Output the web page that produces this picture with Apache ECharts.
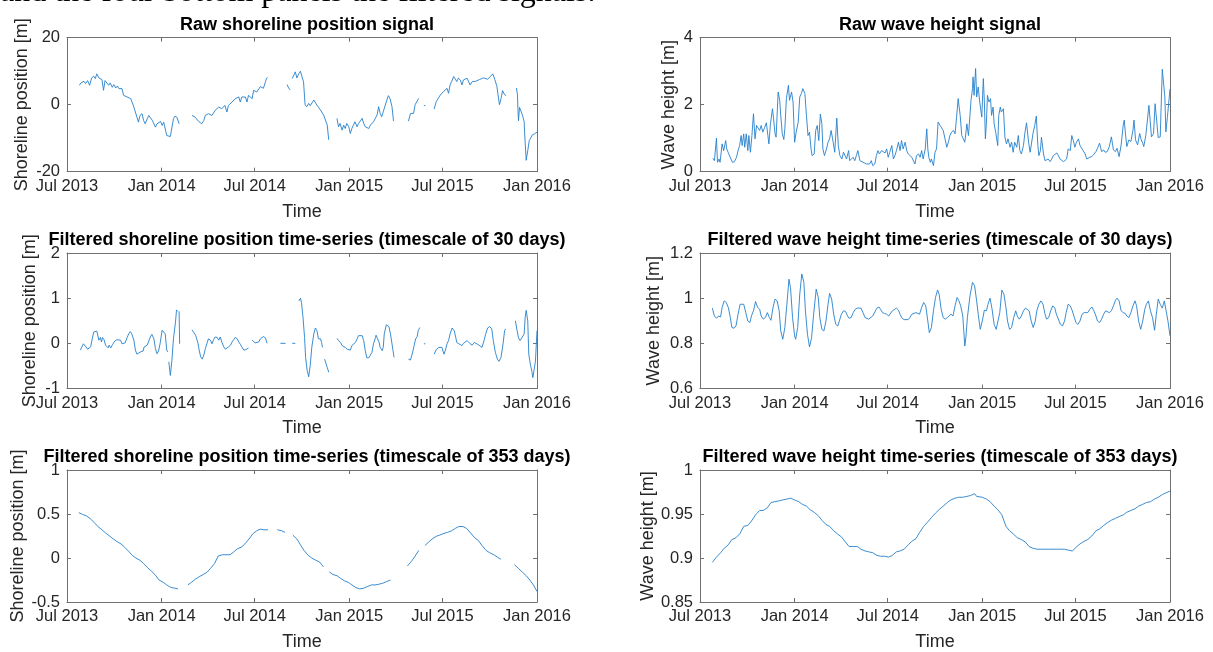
<!DOCTYPE html>
<html><head><meta charset="utf-8">
<script src="https://cdn.jsdelivr.net/npm/echarts@6/dist/echarts.min.js"></script>
<style>html,body{margin:0;padding:0;background:#fff}#c{width:1213px;height:652px}</style>
</head><body><div id="c"></div>
<script>
// x values are days since 1 Jul 2013
const tickDays = [0, 184, 365, 549, 730, 914];
const tickLabels = ['Jul 2013', 'Jan 2014', 'Jul 2014', 'Jan 2015', 'Jul 2015', 'Jan 2016'];

const rawShore = [[24,5.8],[27,6.5],[30,6.2],[33,7.0],[36,6.3],[40,7.2],[44,5.8],[48,8.0],[52,8.5],[55,7.8],[58,9.2],[62,8.0],[65,8.4],[68,7.5],[71,4.3],[74,7.2],[77,6.8],[81,5.8],[84,6.5],[88,5.2],[91,6.0],[95,5.0],[98,5.6],[101,4.8],[104,4.5],[107,4.8],[110,2.8],[113,3.2],[117,2.3],[120,2.5],[124,1.8],[127,1.3],[130,-0.7],[133,-2.2],[136,-3.7],[139,-5.2],[142,-3.2],[146,-2.7],[149,-4.7],[152,-5.7],[156,-4.2],[159,-3.2],[162,-3.4],[166,-4.7],[172,-6.7],[175,-5.7],[178,-6.0],[182,-5.0],[185,-6.2],[188,-5.2],[194,-9.2],[197,-9.7],[201,-9.5],[204,-9.7],[207,-4.2],[210,-3.4],[214,-3.8],[218,-5.7],[230,null],
[243,-3.2],[249,-3.7],[256,-5.0],[262,-5.7],[266,-4.7],[269,-3.2],[275,-2.7],[282,-3.2],[288,-1.7],[295,-0.7],[301,-1.2],[307,-0.2],[311,-2.2],[314,-0.2],[321,0.8],[327,1.8],[334,2.3],[337,0.8],[340,2.3],[347,2.3],[350,0.8],[353,2.8],[360,1.8],[363,4.3],[369,3.8],[376,5.4],[379,5.9],[382,4.9],[386,6.9],[388,7.9],[390,8.1],[410,null],
[428,6.0],[431,5.0],[434,4.4],[436,null],
[438,7.8],[441,8.3],[444,9.8],[447,8.0],[451,9.3],[454,10.0],[457,8.3],[460,6.8],[463,0.0],[466,-0.6],[470,0.4],[473,-0.3],[476,0.1],[480,1.4],[483,0.9],[486,-0.1],[489,0.4],[493,-1.6],[496,-2.1],[499,-3.1],[502,-2.6],[506,-6.0],[509,-10.5],[517,null],
[525,-4.1],[528,-6.6],[531,-5.6],[535,-7.6],[538,-6.1],[541,-7.1],[544,-5.6],[548,-6.6],[551,-8.6],[554,-7.1],[557,-6.1],[560,-5.1],[564,-6.6],[567,-5.6],[570,-5.1],[574,-4.1],[577,-5.6],[580,-6.6],[583,-6.1],[587,-7.1],[590,-6.1],[596,-5.1],[599,-4.6],[603,-3.1],[606,-0.6],[609,-2.6],[612,-3.6],[616,-1.6],[619,-2.1],[622,1.4],[625,2.7],[628,1.9],[632,-0.6],[635,-4.9],[650,null],
[664,-4.9],[668,-2.6],[671,-2.1],[674,-2.6],[677,0.0],[680,0.4],[684,1.9],[690,null],
[694,-0.3],[697,-0.2],[705,null],
[714,-1.3],[718,0.9],[722,1.9],[726,2.9],[729,2.4],[732,3.9],[735,3.4],[739,4.9],[742,3.4],[745,5.9],[748,6.9],[752,8.4],[755,7.7],[758,6.9],[761,7.9],[765,7.4],[768,5.9],[771,7.4],[774,6.9],[778,7.9],[781,7.4],[784,5.9],[788,6.9],[795,7.0],[802,7.5],[810,8.0],[818,7.6],[824,8.5],[828,9.2],[832,7.5],[836,5.5],[838,3.2],[841,0.0],[844,1.8],[847,4.2],[851,3.0],[854,2.7],[864,null],
[874,5.0],[876,3.0],[877,-1.8],[878,-4.8],[880,-0.8],[882,-1.2],[885,-2.8],[887,-3.3],[889,-5.0],[890,-8.7],[893,-16.6],[896,-13.7],[899,-10.7],[905,-9.0],[909,-8.7],[914,-8.2]];

const rawWave = [[25,0.40],[28,0.33],[32,1.00],[34,0.28],[37,0.38],[39,0.28],[43,0.83],[46,0.63],[50,0.93],[52,0.68],[56,0.53],[59,0.58],[63,0.28],[67,0.30],[71,0.43],[74,0.63],[77,0.78],[80,1.08],[82,0.78],[85,1.13],[87,0.73],[90,1.13],[93,0.63],[95,1.08],[98,0.58],[101,1.08],[104,1.73],[107,0.98],[110,1.38],[113,1.33],[116,1.23],[119,1.38],[122,1.18],[126,1.33],[129,1.46],[132,1.08],[134,0.83],[137,1.43],[141,1.88],[143,1.58],[146,1.13],[148,1.03],[152,2.38],[155,2.13],[157,1.68],[160,1.13],[163,0.96],[165,1.28],[168,2.18],[172,2.58],[174,2.13],[178,2.38],[181,2.08],[184,0.88],[187,1.18],[191,1.48],[194,2.23],[197,2.33],[200,2.48],[204,2.33],[207,1.68],[210,1.08],[213,1.18],[216,0.68],[218,0.48],[222,0.53],[225,1.23],[228,1.38],[231,0.93],[234,1.72],[237,1.43],[239,0.68],[242,0.48],[246,0.68],[249,0.88],[252,0.98],[255,1.23],[259,0.88],[262,0.58],[266,1.60],[269,0.78],[272,0.48],[276,0.38],[279,0.58],[282,0.63],[285,0.38],[289,0.63],[291,0.33],[294,0.33],[298,0.43],[301,0.33],[304,0.48],[307,0.63],[311,0.33],[314,0.30],[317,0.28],[320,0.33],[324,0.23],[327,0.26],[330,0.23],[333,0.33],[336,0.18],[340,0.23],[343,0.48],[346,0.63],[349,0.53],[353,0.63],[356,0.58],
[360,0.56],[363,0.68],[366,0.43],[369,0.58],[373,0.78],[376,0.38],[379,0.48],[382,0.63],[386,0.88],[389,0.63],[392,0.93],[395,0.68],[399,0.88],[402,0.63],[405,0.53],[408,0.58],[412,0.43],[415,0.38],[418,0.23],[421,0.48],[425,0.53],[428,0.43],[431,0.63],[434,0.38],[438,0.68],[441,1.28],[443,0.68],[445,0.43],[448,0.28],[450,0.38],[454,0.18],[457,0.58],[460,0.68],[463,1.48],[467,1.38],[470,1.43],[473,1.23],[476,1.18],[480,0.73],[483,0.88],[486,1.08],[489,1.18],[493,1.23],[496,1.13],[499,1.63],[502,2.18],[506,1.68],[509,1.08],[512,0.98],[515,0.88],[519,1.43],[522,1.08],[525,1.68],[527,2.13],[530,2.48],[531,2.83],[533,2.28],[536,3.08],[538,2.23],[541,2.53],[544,2.08],[548,1.63],[551,2.78],[553,2.08],[555,0.98],[557,1.48],[559,2.28],[562,2.08],[565,2.18],[567,1.68],[570,1.93],[572,1.43],[575,1.18],[579,0.78],[581,1.68],[584,1.93],[586,1.78],[590,1.88],[593,1.03],[596,0.83],[599,0.98],[603,0.73],[606,0.88],[609,0.58],[612,0.88],[616,0.73],[619,1.08],[622,0.63],[625,0.53],[629,0.78],[632,1.18],[635,1.46],[639,0.88],[642,0.58],[645,0.63],[648,1.18],[651,1.38],[654,1.66],[657,0.78],[659,0.48],[662,0.63],[664,1.03],[668,0.53],[671,0.33],[674,0.33],[677,0.38],[681,0.30],[684,0.38],[687,0.48],[690,0.53],[694,0.56],[697,0.48],[700,0.38],[703,0.33],[707,0.30],[710,0.26],[713,0.38],[716,0.68],[720,0.63],[723,1.08],[726,0.93],[729,0.73],[732,0.88],[736,0.98],[739,0.78],[742,0.73],[745,0.63],[749,0.53],[752,0.38],[755,0.33],[758,0.43],
[762,0.45],[766,0.52],[770,0.60],[773,0.70],[777,0.85],[781,0.60],[785,0.65],[788,0.58],[792,0.60],[796,0.75],[800,1.04],[804,0.65],[808,0.60],[811,0.70],[815,0.45],[819,0.80],[823,1.39],[825,1.54],[828,1.04],[830,0.75],[834,0.95],[838,0.90],[842,1.24],[844,1.54],[847,0.95],[851,0.80],[855,1.14],[858,0.95],[861,0.85],[863,0.75],[867,1.09],[870,1.14],[873,1.98],[876,1.93],[878,1.04],[882,1.14],[885,2.03],[888,1.54],[891,1.02],[895,1.04],[899,3.06],[901,3.01],[904,2.23],[906,1.19],[909,1.64],[911,1.68],[914,2.47]];

const filtShore30 = [[26,-0.15],[29,-0.08],[32,-0.01],[34,0.03],[37,-0.08],[40,-0.13],[43,-0.13],[46,-0.08],[49,0.10],[52,0.25],[55,0.27],[58,0.27],[62,0.07],[65,0.13],[67,0.03],[69,0.13],[72,0.08],[75,-0.04],[77,-0.01],[80,-0.10],[82,-0.04],[85,-0.10],[89,-0.02],[93,0.05],[97,0.08],[100,0.10],[104,0.07],[107,-0.01],[110,-0.03],[113,0.01],[117,0.13],[120,0.21],[123,0.26],[126,0.21],[130,0.07],[133,-0.15],[136,-0.24],[139,-0.24],[143,-0.19],[146,-0.15],[148,-0.17],[150,-0.08],[152,-0.10],[156,-0.04],[159,-0.08],[162,0.14],[165,0.20],[169,0.10],[172,-0.12],[175,-0.23],[178,-0.17],[181,-0.01],[185,0.29],[188,0.32],[191,0.21],[194,-0.15],[196,-0.19],[197,null],
[198,-0.41],[201,-0.71],[204,-0.38],[207,0.10],[211,0.47],[213,0.74],[215,0.71],[216,null],[218,0.71],[219,-0.01],[230,null],
[243,0.30],[246,0.25],[250,0.18],[253,0.07],[255,-0.01],[257,-0.15],[260,-0.30],[263,-0.35],[266,-0.26],[269,-0.12],[272,-0.01],[275,0.10],[279,0.07],[282,-0.01],[285,0.08],[288,0.14],[292,0.13],[295,0.07],[298,0.14],[301,0.03],[305,-0.08],[308,-0.13],[311,-0.12],[314,-0.08],[318,-0.04],[321,0.03],[324,0.08],[327,0.13],[331,0.10],[334,0.03],[337,-0.02],[340,-0.08],[344,-0.15],[345,-0.12],[348,-0.14],[351,-0.12],[353,-0.10],[356,null],
[360,0.07],[363,0.10],[366,0.01],[369,0.01],[373,0.03],[376,0.10],[379,0.13],[382,0.15],[386,0.12],[389,0.0],[395,null],
[415,0.0],[425,0.0],[430,null],[438,0.0],[444,0.0],[447,null],
[451,0.94],[454,1.00],[456,0.90],[459,0.57],[462,0.13],[464,-0.31],[467,-0.60],[470,-0.74],[473,-0.49],[476,-0.09],[480,0.21],[483,0.34],[486,0.28],[489,0.10],[493,0.10],[495,0.02],[497,-0.09],[499,null],
[501,-0.35],[506,-0.53],[509,-0.64],[517,null],
[525,0.11],[528,0.06],[532,0.02],[535,-0.05],[538,-0.01],[541,-0.09],[545,-0.13],[548,-0.09],[551,-0.15],[554,-0.05],[557,-0.05],[561,0.02],[564,0.06],[567,0.17],[570,0.21],[574,0.17],[577,0.06],[580,-0.16],[583,-0.32],[587,-0.32],[590,-0.31],[593,-0.20],[596,-0.01],[600,0.13],[601,0.18],[604,0.10],[607,0.02],[609,-0.09],[613,-0.16],[615,-0.09],[617,0.21],[621,0.41],[624,0.44],[626,0.37],[629,0.21],[632,-0.01],[634,-0.16],[636,-0.31],[650,null],
[664,-0.35],[668,-0.37],[671,-0.35],[673,-0.16],[675,-0.05],[678,0.10],[681,0.15],[683,0.28],[686,0.35],[690,null],
[694,-0.01],[697,-0.01],[705,null],
[714,-0.24],[718,-0.14],[723,-0.09],[726,-0.05],[729,-0.09],[733,-0.24],[736,-0.15],[739,-0.01],[742,0.06],[745,0.21],[749,0.34],[751,0.37],[753,0.28],[756,0.13],[758,0.02],[762,-0.01],[765,-0.03],[768,-0.05],[771,0.00],[774,0.04],[778,0.06],[781,0.02],[784,-0.01],[788,-0.04],[792,0.02],[800,-0.03],[807,-0.09],[811,0.06],[814,0.20],[818,0.34],[822,0.37],[826,0.32],[829,0.06],[833,-0.20],[837,-0.35],[840,-0.40],[844,-0.31],[848,-0.01],[851,0.28],[853,0.32],[862,null],
[872,0.50],[875,0.30],[878,0.12],[881,0.06],[885,0.13],[889,0.21],[891,0.58],[893,0.73],[896,0.50],[898,-0.24],[901,-0.46],[904,-0.62],[906,-0.76],[908,-0.79],[911,-0.39],[914,0.28]];

const filtWave30 = [[24,0.956],[28,0.921],[32,0.911],[36,0.921],[40,0.917],[43,0.959],[47,0.988],[51,0.981],[55,0.959],[59,0.914],[62,0.870],[66,0.867],[70,0.877],[74,0.929],[78,0.973],[81,0.981],[85,0.973],[89,0.936],[93,0.899],[97,0.892],[100,0.921],[104,0.944],[108,0.985],[112,0.959],[116,0.951],[119,0.921],[123,0.907],[127,0.914],[131,0.936],[135,0.914],[138,0.902],[142,0.959],[146,0.996],[150,0.988],[154,0.944],[157,0.855],[161,0.818],[165,0.870],[169,0.973],[173,1.084],[176,1.047],[180,0.914],[184,0.833],[186,0.818],[190,0.870],[194,1.018],[198,1.107],[202,1.070],[205,0.944],[209,0.840],[213,0.784],[217,0.825],[221,0.929],[226,1.040],[230,1.003],[233,0.914],[237,0.862],[241,0.855],[245,0.899],[249,0.973],[252,1.021],[256,0.996],[260,0.929],[264,0.884],[268,0.877],[271,0.899],[275,0.929],[279,0.944],[283,0.941],[287,0.921],[290,0.911],[294,0.914],[298,0.936],[302,0.951],[306,0.956],[313,0.956],[317,0.936],[321,0.914],[328,0.907],[336,0.921],[344,0.956],[348,0.961],[351,0.951],[355,0.936],[359,0.932],[363,0.929],[367,0.921],[370,0.929],[374,0.944],[382,0.956],[386,0.947],[389,0.929],[393,0.911],[397,0.905],[405,0.905],[408,0.914],[412,0.929],[420,0.936],[427,0.929],[431,0.959],[435,0.981],[439,0.966],[443,0.899],[446,0.847],[450,0.870],[454,0.944],[458,1.003],[462,1.036],[465,1.018],[469,0.951],[473,0.914],[477,0.907],[481,0.914],[484,0.914],[488,0.929],[492,0.921],[496,0.966],[500,1.003],[503,0.991],[507,0.966],[511,0.921],[515,0.788],[517,0.825],[520,0.914],[525,1.010],[530,1.070],[534,1.055],[538,0.988],[541,0.929],[545,0.862],[549,0.899],[553,0.947],[557,0.944],[560,0.973],[564,1.000],[568,0.951],[572,0.884],[576,0.862],[579,0.870],[583,0.936],[587,1.036],[591,1.018],[595,0.959],[598,0.899],[602,0.862],[606,0.870],[610,0.914],[614,0.944],[617,0.921],[621,0.907],[625,0.921],[629,0.944],[633,0.956],[636,0.961],[640,0.944],[644,0.899],[648,0.870],[652,0.899],[655,0.944],[659,0.973],[663,0.988],[667,0.973],[671,0.929],[674,0.907],[678,0.914],[682,0.944],[686,0.966],[690,0.956],[693,0.929],[701,0.884],[705,0.877],[709,0.899],[712,0.936],[716,0.973],[720,0.966],[724,0.944],[728,0.914],[731,0.892],[735,0.884],[739,0.899],[743,0.929],[747,0.936],[750,0.936],[754,0.936],[758,0.951],[762,0.961],[766,0.944],[770,0.921],[773,0.899],[777,0.892],[781,0.907],[785,0.929],[789,0.944],[792,0.947],[796,0.936],[800,0.944],[804,0.966],[808,0.991],[811,1.000],[815,0.988],[819,0.944],[823,0.936],[827,0.932],[830,0.921],[834,0.914],[838,0.936],[842,0.966],[846,0.988],[849,0.966],[853,0.899],[857,0.862],[861,0.899],[865,0.951],[868,0.973],[872,0.988],[876,0.944],[880,0.914],[884,0.858],[887,0.921],[891,0.996],[895,0.973],[899,0.956],[903,0.988],[906,0.981],[910,0.899],[914,0.833]];

const filtShore353 = [[23,0.515],[30,0.496],[38,0.478],[45,0.448],[53,0.403],[60,0.358],[68,0.321],[75,0.284],[82,0.254],[90,0.216],[97,0.187],[105,0.160],[112,0.123],[120,0.075],[127,0.030],[134,0],[142,-0.026],[149,-0.063],[157,-0.112],[164,-0.149],[172,-0.194],[179,-0.250],[187,-0.276],[194,-0.306],[201,-0.332],[209,-0.343],[216,-0.351],[225,null],
[235,-0.306],[242,-0.276],[250,-0.239],[257,-0.213],[265,-0.187],[272,-0.164],[279,-0.119],[287,-0.063],[294,0.022],[302,0.037],[309,0.037],[317,0.037],[324,0.067],[331,0.104],[339,0.123],[346,0.160],[354,0.216],[361,0.272],[369,0.310],[376,0.328],[383,0.321],[391,0.321],[400,null],
[409,0.321],[417,0.310],[424,0.291],[431,null],
[439,0.261],[447,0.216],[454,0.149],[461,0.086],[469,0.030],[476,0],[484,-0.026],[491,-0.045],[499,-0.101],[504,null],
[510,-0.157],[517,-0.187],[525,-0.201],[532,-0.231],[540,-0.261],[547,-0.276],[554,-0.306],[562,-0.336],[569,-0.351],[577,-0.343],[584,-0.325],[592,-0.306],[599,-0.306],[606,-0.299],[614,-0.287],[621,-0.269],[629,-0.250],[645,null],
[662,-0.090],[670,-0.037],[677,0.022],[684,0.086],[690,null],
[696,0.142],[703,0.179],[710,0.216],[718,0.246],[725,0.261],[733,0.280],[740,0.291],[748,0.310],[755,0.336],[762,0.358],[770,0.358],[777,0.336],[785,0.284],[792,0.235],[800,0.198],[807,0.142],[815,0.086],[822,0.060],[830,0.037],[837,0.011],[844,-0.015],[857,null],
[870,-0.075],[878,-0.119],[885,-0.157],[893,-0.201],[900,-0.250],[907,-0.306],[914,-0.381]];

const filtWave353 = [[24,0.895],[32,0.901],[40,0.906],[47,0.911],[55,0.915],[62,0.921],[70,0.923],[78,0.928],[85,0.936],[93,0.937],[100,0.942],[108,0.949],[116,0.954],[123,0.954],[131,0.957],[138,0.963],[146,0.964],[154,0.965],[161,0.966],[169,0.967],[176,0.968],[184,0.966],[192,0.964],[199,0.961],[207,0.959],[214,0.955],[222,0.952],[230,0.948],[237,0.943],[245,0.938],[252,0.936],[260,0.931],[268,0.927],[275,0.924],[283,0.918],[290,0.913],[298,0.913],[306,0.913],[313,0.910],[321,0.908],[328,0.907],[336,0.906],[344,0.903],[351,0.902],[359,0.902],[367,0.901],[374,0.903],[382,0.907],[389,0.908],[397,0.910],[405,0.915],[412,0.919],[420,0.922],[427,0.929],[435,0.936],[443,0.941],[450,0.946],[458,0.951],[465,0.955],[473,0.959],[481,0.963],[488,0.966],[496,0.968],[503,0.969],[511,0.969],[519,0.970],[526,0.971],[534,0.973],[538,0.970],[541,0.968],[549,0.969],[557,0.967],[564,0.964],[572,0.959],[579,0.955],[587,0.949],[595,0.936],[602,0.931],[610,0.927],[617,0.923],[625,0.921],[633,0.918],[640,0.913],[648,0.911],[655,0.910],[663,0.910],[678,0.910],[693,0.910],[709,0.910],[716,0.909],[724,0.908],[731,0.912],[739,0.916],[747,0.919],[754,0.921],[762,0.925],[770,0.931],[777,0.933],[785,0.937],[792,0.940],[800,0.943],[808,0.945],[815,0.947],[823,0.949],[830,0.952],[838,0.954],[846,0.956],[853,0.959],[861,0.961],[868,0.963],[876,0.964],[884,0.967],[891,0.969],[899,0.972],[906,0.974],[914,0.976]];

const panelTitles = ['Raw shoreline position signal','Raw wave height signal',
  'Filtered shoreline position time-series (timescale of 30 days)','Filtered wave height time-series (timescale of 30 days)',
  'Filtered shoreline position time-series (timescale of 353 days)','Filtered wave height time-series (timescale of 353 days)'];
const yNames = ['Shoreline position [m]','Wave height [m]','Shoreline position [m]','Wave height [m]','Shoreline position [m]','Wave height [m]'];
const yMin = [-20, 0, -1, 0.6, -0.5, 0.85];
const yMax = [20, 4, 2, 1.2, 1, 1];
const yStep = [20, 2, 1, 0.2, 0.5, 0.05];
const seriesData = [rawShore, rawWave, filtShore30, filtWave30, filtShore353, filtWave353];

// layout
const colLeft = [67, 700];
const plotW = 470;
const rowTop = [37.7, 253, 470];
const rowH = [134, 135.5, 134];
const yNameGap = [36, 22, 28, 37, 40, 43];

const axisColor = '#707070';
const textColor = '#262626';
const FONT = '"Liberation Sans", Arial, sans-serif';

const grids = [], xAxes = [], yAxes = [], series = [], titles = [];
for (let i = 0; i < 6; i++) {
  const c = i % 2, r = Math.floor(i / 2);
  grids.push({left: colLeft[c], top: rowTop[r], width: plotW, height: rowH[r], show: false});
  const tickCommon = {show: true, inside: true, length: 4, lineStyle: {color: axisColor, width: 1}, customValues: tickDays};
  xAxes.push({
    gridIndex: i, type: 'value', position: 'bottom', min: 0, max: 914,
    axisLine: {show: true, onZero: false, lineStyle: {color: axisColor, width: 1}},
    axisTick: tickCommon,
    axisLabel: {show: true, margin: 6, color: textColor, fontSize: 16.5, fontFamily: FONT,
      customValues: tickDays,
      formatter: function (v) { const k = tickDays.indexOf(Math.round(v)); return k >= 0 ? tickLabels[k] : ''; }},
    splitLine: {show: false},
    name: 'Time', nameLocation: 'middle', nameGap: 31,
    nameTextStyle: {color: textColor, fontSize: 18, fontFamily: FONT}
  });
  xAxes.push({
    gridIndex: i, type: 'value', position: 'top', min: 0, max: 914,
    axisLine: {show: true, onZero: false, lineStyle: {color: axisColor, width: 1}},
    axisTick: tickCommon, axisLabel: {show: false}, splitLine: {show: false}
  });
  yAxes.push({
    gridIndex: i, type: 'value', position: 'left', min: yMin[i], max: yMax[i], interval: yStep[i],
    axisLine: {show: true, onZero: false, lineStyle: {color: axisColor, width: 1}},
    axisTick: {show: true, inside: true, length: 4, lineStyle: {color: axisColor, width: 1}},
    axisLabel: {show: true, margin: 7, color: textColor, fontSize: 16.5, fontFamily: FONT},
    splitLine: {show: false},
    name: yNames[i], nameLocation: 'middle', nameGap: yNameGap[i],
    nameTextStyle: {color: textColor, fontSize: 18, fontFamily: FONT}
  });
  yAxes.push({
    gridIndex: i, type: 'value', position: 'right', min: yMin[i], max: yMax[i], interval: yStep[i],
    axisLine: {show: true, onZero: false, lineStyle: {color: axisColor, width: 1}},
    axisTick: {show: true, inside: true, length: 4, lineStyle: {color: axisColor, width: 1}},
    axisLabel: {show: false}, splitLine: {show: false}
  });
  series.push({
    type: 'line', xAxisIndex: 2 * i, yAxisIndex: 2 * i, data: seriesData[i],
    showSymbol: false, symbol: 'none', connectNulls: false, clip: true,
    lineStyle: {color: '#2580cc', width: 0.9}, emphasis: {disabled: true}
  });
  titles.push({
    text: panelTitles[i], left: colLeft[c] + plotW / 2, top: rowTop[r] - 27, textAlign: 'center',
    textStyle: {color: '#000', fontSize: 18, fontWeight: 'bold', fontFamily: FONT}
  });
}

const chart = echarts.init(document.getElementById('c'), null, {renderer: 'canvas'});
chart.setOption({
  animation: false,
  backgroundColor: '#fff',
  title: titles,
  grid: grids,
  xAxis: xAxes,
  yAxis: yAxes,
  series: series,
  graphic: [{
    type: 'text', left: 0, top: -23, silent: true,
    style: {text: 'and the four bottom panels the filtered signals.', fill: '#000',
      font: '32px "Liberation Serif", "Times New Roman", serif'}
  }]
});
</script>
</body></html>
